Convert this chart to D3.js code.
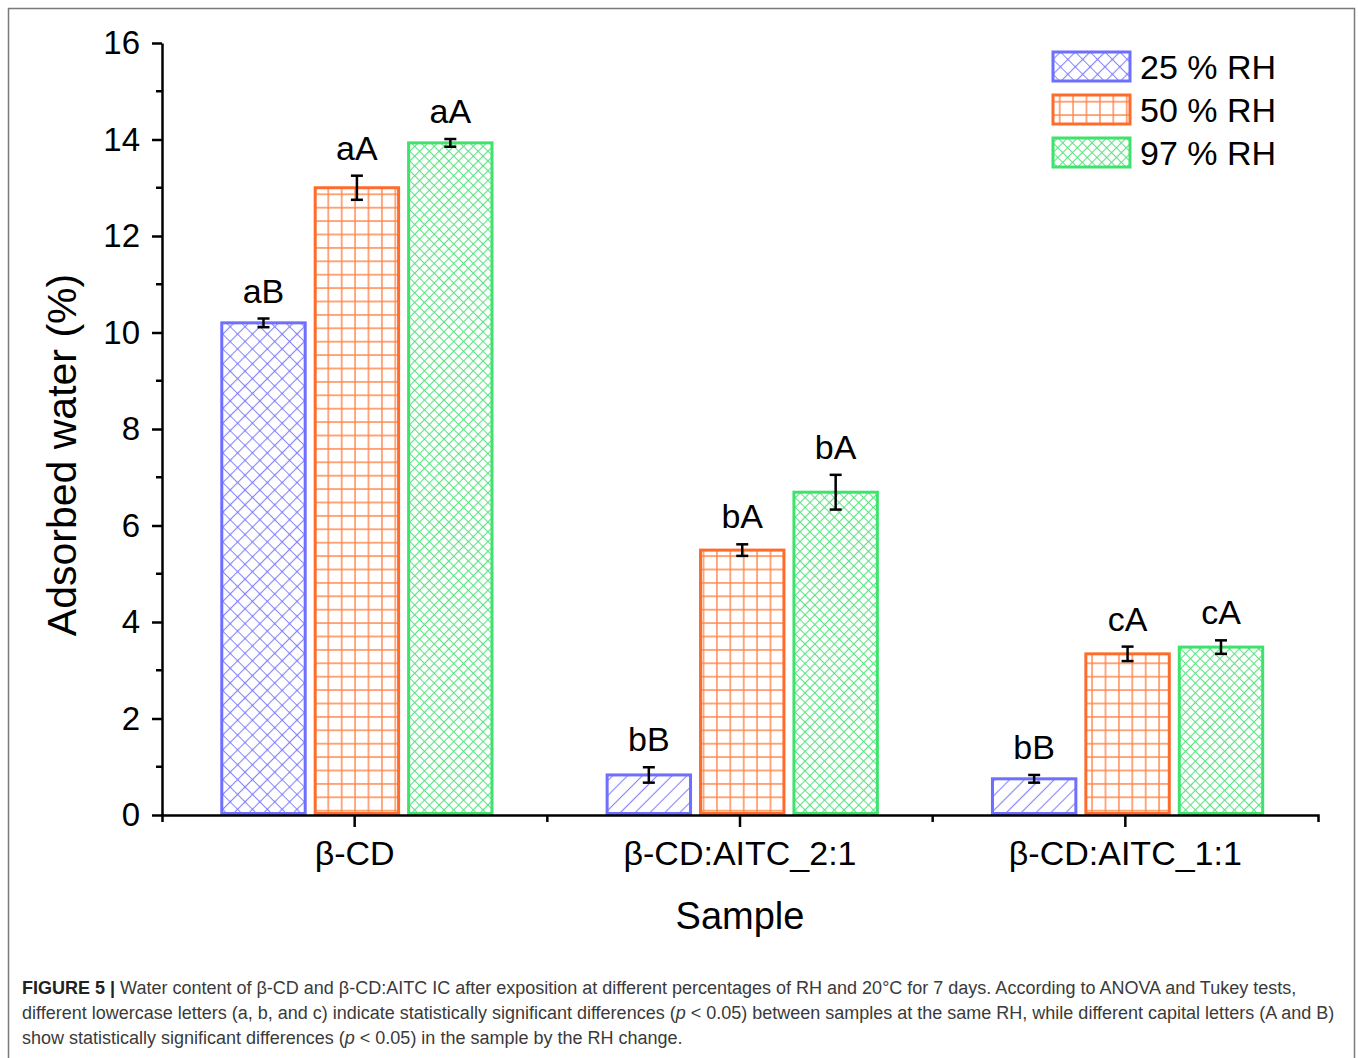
<!DOCTYPE html>
<html>
<head>
<meta charset="utf-8">
<script src="https://cdnjs.cloudflare.com/ajax/libs/d3/7.8.5/d3.min.js"></script>
<style>
  body { margin: 0; background: #fff; }
  svg text { font-family: "Liberation Sans", Arial, sans-serif; }
</style>
</head>
<body>
<div id="chart"></div>
<script>
var samples = ["β-CD", "β-CD:AITC_2:1", "β-CD:AITC_1:1"];
var series = ["25 % RH", "50 % RH", "97 % RH"];

var rh25 = [10.2, 0.83, 0.75];
var rh25Err = [0.09, 0.16, 0.08];
var rh50 = [13.0, 5.49, 3.34];
var rh50Err = [0.25, 0.12, 0.15];
var rh97 = [13.93, 6.69, 3.48];
var rh97Err = [0.08, 0.36, 0.14];

var letters25 = ["aB", "bB", "bB"];
var letters50 = ["aA", "bA", "cA"];
var letters97 = ["aA", "bA", "cA"];

var yMajor = [0, 2, 4, 6, 8, 10, 12, 14, 16];
var yMinor = [1, 3, 5, 7, 9, 11, 13, 15];

var colors = ["#6e6eff", "#ff6b2b", "#3ee26c"];
var hatch = ["#8585ff", "#ff8548", "#5ee385"];

var W = 1358, H = 1058;
var mLeft = 162, mRight = 1318, mTop = 43, mBottom = 815;

var svg = d3.select("#chart").append("svg")
  .attr("width", W).attr("height", H);

// frame
svg.append("rect")
  .attr("x", 8.5).attr("y", 8.5)
  .attr("width", 1346).attr("height", 1100)
  .attr("fill", "none").attr("stroke", "#7a7a7a").attr("stroke-width", 1.5);

var defs = svg.append("defs");

function makePattern(id, size, color, d, rotate, sw) {
  var p = defs.append("pattern")
    .attr("id", id)
    .attr("patternUnits", "userSpaceOnUse")
    .attr("width", size).attr("height", size);
  if (rotate) p.attr("patternTransform", "rotate(" + rotate + ")");
  p.append("rect").attr("width", size).attr("height", size).attr("fill", "#fff");
  p.append("path").attr("d", d).attr("stroke", color).attr("stroke-width", sw).attr("fill", "none");
  return p;
}
var b = 10.5, g = 13.4, gr = 6.9;
makePattern("p0", b, hatch[0], "M0," + b/2 + "H" + b + "M" + b/2 + ",0V" + b, 45, 1.1)
  .append("circle").attr("cx", b/2).attr("cy", b/2).attr("r", 1.1).attr("fill", hatch[0]);
makePattern("p0s", b, hatch[0], "M" + b/2 + ",0V" + b, 45, 1.1);
makePattern("p1", g, hatch[1], "M0," + g/2 + "H" + g + "M" + g/2 + ",0V" + g, 0, 1.4);
makePattern("p2", gr, hatch[2], "M0," + gr/2 + "H" + gr + "M" + gr/2 + ",0V" + gr, 45, 1.1)
  .append("circle").attr("cx", gr/2).attr("cy", gr/2).attr("r", 1).attr("fill", hatch[2]);

var y = d3.scaleLinear().domain([0, 16]).range([mBottom, mTop]);

var x0 = d3.scaleBand().domain(samples).range([mLeft, mRight]);
var x1 = d3.scaleBand().domain(series).range([0, x0.bandwidth()])
  .paddingInner(0.075).paddingOuter(0.6).align(0.52);

var vals = [rh25, rh50, rh97];
var errs = [rh25Err, rh50Err, rh97Err];
var lets = [letters25, letters50, letters97];

var data = [];
samples.forEach(function(s, i) {
  series.forEach(function(k, j) {
    data.push({sample: s, key: k, si: i, ki: j, value: vals[j][i], err: errs[j][i], letter: lets[j][i]});
  });
});

function pat(d) {
  if (d.ki === 0) return d.si === 0 ? "url(#p0)" : "url(#p0s)";
  return "url(#p" + d.ki + ")";
}

// bars
svg.selectAll("rect.bar")
  .data(data)
  .enter()
  .append("rect")
  .attr("class", "bar")
  .attr("x", function(d) { return x0(d.sample) + x1(d.key) + 1.5; })
  .attr("width", x1.bandwidth() - 3)
  .attr("y", function(d) { return y(d.value); })
  .attr("height", function(d) { return y(0) - y(d.value) - 1.5; })
  .attr("fill", pat)
  .attr("stroke", function(d) { return colors[d.ki]; })
  .attr("stroke-width", 3);

// error bars
var eb = svg.selectAll("g.err").data(data).enter().append("g")
  .attr("transform", function(d) { return "translate(" + (x0(d.sample) + x1(d.key) + x1.bandwidth() / 2) + ",0)"; })
  .attr("stroke", "#000").attr("stroke-width", 2.5);
eb.append("line")
  .attr("y1", function(d) { return y(d.value + d.err); })
  .attr("y2", function(d) { return y(d.value - d.err); });
eb.append("line").attr("x1", -6).attr("x2", 6)
  .attr("y1", function(d) { return y(d.value + d.err); })
  .attr("y2", function(d) { return y(d.value + d.err); });
eb.append("line").attr("x1", -6).attr("x2", 6)
  .attr("y1", function(d) { return y(d.value - d.err); })
  .attr("y2", function(d) { return y(d.value - d.err); });

// letters
svg.selectAll("text.letter").data(data).enter().append("text")
  .attr("x", function(d) { return x0(d.sample) + x1(d.key) + x1.bandwidth() / 2; })
  .attr("y", function(d) { return y(d.value + d.err) - 16; })
  .attr("text-anchor", "middle")
  .style("font-size", "34px")
  .text(function(d) { return d.letter; });

// y axis
var yAxis = svg.append("g")
  .attr("transform", "translate(" + mLeft + ",0)")
  .call(d3.axisLeft(y).tickValues(yMajor).tickSize(10).tickSizeOuter(0).tickPadding(12).tickFormat(d3.format("d")));
yAxis.selectAll("line").attr("stroke", "#000").attr("stroke-width", 2.5);
yAxis.select(".domain").attr("stroke", "#000").attr("stroke-width", 2.5);
yAxis.selectAll("text").style("font-size", "33px").attr("fill", "#000").attr("font-family", null);
svg.append("g").selectAll("line").data(yMinor).enter().append("line")
  .attr("x1", mLeft - 6).attr("x2", mLeft)
  .attr("y1", function(d) { return y(d); }).attr("y2", function(d) { return y(d); })
  .attr("stroke", "#000").attr("stroke-width", 2.5);

// x axis
var xAxis = svg.append("g")
  .attr("transform", "translate(0," + mBottom + ")")
  .call(d3.axisBottom(x0).tickSize(12).tickSizeOuter(7).tickPadding(14));
xAxis.selectAll("line").attr("stroke", "#000").attr("stroke-width", 2.5);
xAxis.select(".domain").attr("stroke", "#000").attr("stroke-width", 2.5);
xAxis.selectAll("text").style("font-size", "34px").attr("fill", "#000").attr("font-family", null);
svg.append("g").selectAll("line").data(samples.slice(1)).enter().append("line")
  .attr("x1", function(d) { return x0(d); }).attr("x2", function(d) { return x0(d); })
  .attr("y1", mBottom).attr("y2", mBottom + 7)
  .attr("stroke", "#000").attr("stroke-width", 2.5);

// axis titles
svg.append("text")
  .attr("x", (mLeft + mRight) / 2).attr("y", 929)
  .attr("text-anchor", "middle")
  .style("font-size", "38px")
  .text("Sample");
svg.append("text")
  .attr("transform", "translate(76," + ((mTop + mBottom) / 2 + 26) + ")rotate(-90)")
  .attr("text-anchor", "middle")
  .style("font-size", "41px")
  .text("Adsorbed water (%)");

// legend
var leg = svg.append("g").selectAll("g").data(series).enter().append("g")
  .attr("transform", function(d, i) { return "translate(1053," + (52 + i * 43) + ")"; });
leg.append("rect")
  .attr("width", 77).attr("height", 29)
  .attr("fill", function(d, i) { return "url(#p" + i + ")"; })
  .attr("stroke", function(d, i) { return colors[i]; })
  .attr("stroke-width", 3);
leg.append("text")
  .attr("x", 87).attr("y", 27)
  .style("font-size", "34px")
  .text(function(d) { return d; });

// caption
var cap = svg.append("text")
  .attr("x", 22).attr("y", 994)
  .style("font-size", "18px")
  .attr("fill", "#3a3a3a");
var l1 = cap.append("tspan").attr("x", 22).attr("y", 994);
l1.append("tspan").attr("font-weight", "bold").attr("fill", "#222").text("FIGURE 5 | ");
l1.append("tspan").text("Water content of β-CD and β-CD:AITC IC after exposition at different percentages of RH and 20°C for 7 days. According to ANOVA and Tukey tests,");
var l2 = cap.append("tspan").attr("x", 22).attr("y", 1019);
l2.append("tspan").text("different lowercase letters (a, b, and c) indicate statistically significant differences (");
l2.append("tspan").attr("font-style", "italic").text("p");
l2.append("tspan").text(" < 0.05) between samples at the same RH, while different capital letters (A and B)");
var l3 = cap.append("tspan").attr("x", 22).attr("y", 1044);
l3.append("tspan").text("show statistically significant differences (");
l3.append("tspan").attr("font-style", "italic").text("p");
l3.append("tspan").text(" < 0.05) in the sample by the RH change.");
</script>
</body>
</html>
